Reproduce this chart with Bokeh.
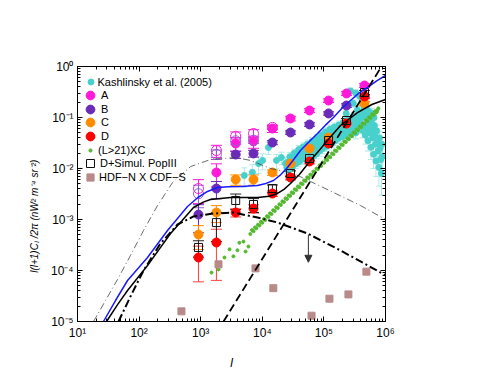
import math
from bokeh.plotting import figure
from bokeh.models import (ColumnDataSource, Whisker, TeeHead, Legend, LegendItem,
                          Arrow, NormalHead, LogAxis, LogTicker, CustomJSTickFormatter)
from bokeh.embed import file_html
from bokeh.resources import INLINE

FONT = "Liberation Sans"
nan = float("nan")

# ---------------- data ----------------
ell = [920, 1800, 3700, 7200, 14600, 28700, 58400, 119000, 233000, 456000]

A_val = [nan, 0.00835, 0.0309, 0.0339, 0.0608, 0.0956, 0.137, 0.215, 0.296, 0.424]
A_err = [nan, 0.0040, 0.0090, 0.0090, 0.0100, 0.0100, 0.012, 0.018, 0.025, 0.035]
B_val = [1.25e-3, 4.05e-3, 0.0188, 0.0197, 0.0323, 0.0508, 0.073, 0.12, 0.172, 0.26]
B_err = [7e-4, 1.5e-3, 3e-3, 3e-3, 3e-3, 4e-3, 6e-3, 9e-3, 0.014, 0.02]
C_val = [5.08e-4, 1.37e-3, 6.08e-3, 6.08e-3, 8.35e-3, 0.0125, 0.0247, 0.0405, 0.0763, 0.188]
C_err = [2.5e-4, 5e-4, 1.4e-3, 1.4e-3, 1e-3, 1.2e-3, 2e-3, 3.5e-3, 7e-3, 0.018]
D_val = [1.8e-4, 3.54e-4, 1.37e-3, 1.64e-3, 3.23e-3, 6.67e-3, 0.0137, 0.0309, 0.0763, 0.258]
D_err = [1.2e-4, 2.9e-4, 2.5e-4, 3e-4, 4e-4, 7e-4, 1.4e-3, 3e-3, 8e-3, 0.025]
P3_val = [2.83e-4, 8.7e-4, 2.36e-3, 1.97e-3, 4.05e-3, 7.98e-3, 0.0157, 0.0354, 0.0873, 0.309]
P3_err = [1e-4, 5e-4, 8e-4, 6e-4, 7e-4, 1e-3, 1.5e-3, 3e-3, 8e-3, 0.03]
A3_val = [4.05e-3, 0.0225, 0.043, 0.0486, 0.064]
A3_err = [2e-3, 6e-3, 9e-3, 9e-3, 6e-3]
B3_val = [3.2e-3, 0.019, 0.035, 0.036]
B3_err = [1.5e-3, 4e-3, 5e-3, 5e-3]

kash_l = [5100, 6900, 8700, 10100, 12600, 17000, 20400, 23800,
          25000, 26000, 27500, 29000, 30500, 32000, 34000, 36000, 38000, 40000,
          42000, 44500, 47000, 50000, 53000, 56000, 59000, 62000, 66000, 70000,
          74000, 78000, 83000, 88000, 93000, 99000, 105000, 111000, 118000, 125000,
          133000, 141000, 150000, 159000, 169000, 179000, 190000, 201000, 213000, 226000,
          240000, 255000, 270000, 286000, 303000, 320000, 340000, 360000, 380000, 400000,
          420000, 445000, 470000, 495000, 520000, 550000, 580000, 610000, 640000, 670000,
          700000, 740000, 780000, 820000, 860000, 880000,
          310000, 330000, 370000, 390000, 430000, 460000, 480000, 510000, 530000, 560000,
          590000, 620000, 660000, 690000, 720000, 760000, 800000, 840000, 870000,
          230000, 270000, 300000, 330000, 350000, 380000, 420000, 450000, 500000, 540000,
          600000, 650000,
          27000, 31000, 35000, 39000, 43000, 48000, 54000, 60000, 68000, 76000,
          85000, 95000, 108000, 120000, 136000, 152000, 172000, 195000, 220000, 248000,
          280000,
          28000, 33000, 39000, 46000, 54000, 64000, 76000, 90000, 106000, 125000,
          148000, 175000, 205000, 240000, 280000]
kash_c = [0.0073, 0.0084, 0.0125, 0.0144, 0.0258, 0.0144, 0.0164, 0.0126,
          0.0105, 0.0135, 0.0118, 0.0152, 0.0128, 0.0168, 0.0140, 0.0180, 0.0152, 0.0195,
          0.0162, 0.0215, 0.0175, 0.0230, 0.0188, 0.0250, 0.0200, 0.0270, 0.0215, 0.0292,
          0.0235, 0.0320, 0.0260, 0.0350, 0.0285, 0.0395, 0.0320, 0.0435, 0.0350, 0.0480,
          0.0385, 0.0520, 0.0420, 0.0560, 0.0450, 0.0600, 0.0480, 0.0640, 0.0510, 0.0690,
          0.0540, 0.0740, 0.0580, 0.0790, 0.0620, 0.0850, 0.0660, 0.0900, 0.0640, 0.0980,
          0.0560, 0.1100, 0.0450, 0.0950, 0.0350, 0.0780, 0.0260, 0.0600, 0.0190, 0.0450,
          0.0140, 0.0330, 0.0105, 0.0250, 0.0080, 0.0170,
          0.105, 0.050, 0.120, 0.075, 0.130, 0.070, 0.120, 0.060, 0.110, 0.050,
          0.090, 0.040, 0.070, 0.030, 0.055, 0.022, 0.040, 0.015, 0.030,
          0.12, 0.33, 0.19, 0.30, 0.14, 0.26, 0.20, 0.16, 0.14, 0.13,
          0.12, 0.10,
          0.0095, 0.0110, 0.0125, 0.0135, 0.0150, 0.0160, 0.0165, 0.0170, 0.0175, 0.0195,
          0.0220, 0.0245, 0.0270, 0.0290, 0.0320, 0.0350, 0.0390, 0.0420, 0.0450, 0.0490,
          0.0520,
          0.0170, 0.0200, 0.0235, 0.0265, 0.0300, 0.0340, 0.0390, 0.0450, 0.0520, 0.0590,
          0.0650, 0.0710, 0.0790, 0.0870, 0.0940]
kash_err = [0.0030, 0.0035, 0.0045, 0.0050, 0.0070, 0.0045, 0.0045, 0.0040,
            0.0025, 0.003, 0.0025, 0.003, 0.0025, 0.0035, 0.003, 0.0035, 0.003, 0.004,
            0.0035, 0.0045, 0.0035, 0.0045, 0.004, 0.005, 0.004, 0.0055, 0.0045, 0.006,
            0.005, 0.0065, 0.0055, 0.007, 0.006, 0.008, 0.0065, 0.009, 0.007, 0.0095,
            0.008, 0.0105, 0.0085, 0.011, 0.009, 0.012, 0.0095, 0.013, 0.010, 0.014,
            0.011, 0.015, 0.012, 0.016, 0.013, 0.018, 0.015, 0.020, 0.016, 0.025,
            0.016, 0.030, 0.015, 0.030, 0.013, 0.028, 0.011, 0.024, 0.009, 0.020,
            0.007, 0.016, 0.006, 0.013, 0.005, 0.010,
            0.02, 0.012, 0.025, 0.018, 0.03, 0.018, 0.03, 0.016, 0.03, 0.014,
            0.025, 0.012, 0.02, 0.01, 0.016, 0.008, 0.013, 0.006, 0.01,
            0.02, 0.05, 0.03, 0.05, 0.025, 0.04, 0.035, 0.03, 0.03, 0.03,
            0.03, 0.025,
            0.002, 0.0022, 0.0025, 0.0027, 0.003, 0.0032, 0.0033, 0.0034, 0.0035, 0.004,
            0.0045, 0.005, 0.0055, 0.006, 0.0065, 0.007, 0.008, 0.0085, 0.009, 0.010,
            0.011,
            0.0035, 0.004, 0.0047, 0.0053, 0.006, 0.0068, 0.008, 0.009, 0.0105, 0.012,
            0.013, 0.014, 0.016, 0.018, 0.019]

xc_l = [1500, 1950, 2430, 2940, 3400, 3950, 4250, 4950, 5350, 5950,
        6400, 6800, 7200, 7600, 8000, 8500, 9000, 9500, 10000, 10600,
        11200, 11900, 12600, 13300, 14100, 15000, 15900, 16800, 17800, 18900,
        20000, 21200, 22400, 23800, 25200, 26700, 28300, 30000, 31800, 33700,
        35700, 37800, 40000, 42400, 45000, 47700, 50500, 53500, 56700, 60000,
        63600, 67400, 71400, 75700, 80200, 85000, 90000, 95400, 101000, 107000,
        113500, 120000, 127000, 135000, 143000, 151000, 160000, 170000, 180000, 191000,
        202000, 214000, 227000, 240000, 255000, 270000, 286000, 303000, 321000, 340000,
        360000, 382000, 405000, 429000, 455000, 482000, 510000, 541000, 573000, 607000,
        643000, 682000, 723000, 766000, 740000, 700000]
xc_c = [9.1e-5, 1.05e-4, 1.8e-4, 2.6e-4, 1.9e-4, 2.5e-4, 3.5e-4, 3.7e-4, 2.35e-4, 2.95e-4,
        5.2e-4, 6.2e-4, 5.9e-4, 7.0e-4, 6.7e-4, 7.9e-4, 7.6e-4, 9.0e-4, 8.6e-4, 1.02e-3,
        9.8e-4, 1.16e-3, 1.12e-3, 1.32e-3, 1.28e-3, 1.52e-3, 1.47e-3, 1.74e-3, 1.68e-3, 1.99e-3,
        1.93e-3, 2.27e-3, 2.2e-3, 2.6e-3, 2.53e-3, 2.97e-3, 2.9e-3, 3.4e-3, 3.3e-3, 3.9e-3,
        3.8e-3, 4.45e-3, 4.3e-3, 5.1e-3, 4.95e-3, 5.85e-3, 5.7e-3, 6.7e-3, 6.5e-3, 7.6e-3,
        7.45e-3, 8.75e-3, 8.5e-3, 1.0e-2, 9.75e-3, 1.15e-2, 1.12e-2, 1.32e-2, 1.29e-2, 1.51e-2,
        1.47e-2, 1.72e-2, 1.67e-2, 1.97e-2, 1.91e-2, 2.25e-2, 2.2e-2, 2.59e-2, 2.52e-2, 2.97e-2,
        2.89e-2, 3.4e-2, 3.3e-2, 3.88e-2, 3.77e-2, 4.45e-2, 4.3e-2, 5.1e-2, 4.95e-2, 5.85e-2,
        5.7e-2, 6.7e-2, 6.5e-2, 7.7e-2, 7.5e-2, 8.85e-2, 8.55e-2, 0.101, 0.098, 0.116,
        0.112, 0.133, 0.128, 0.152, 0.14, 0.125]

hdf_l = [487, 1945, 7760, 15100, 63000, 123000, 250000, 490000]
hdf_c = [1.58e-5, 1.32e-4, 1.1e-4, 4.5e-5, 1.3e-5, 2.8e-5, 3.4e-5, 9.5e-5]

blue_l = [26.4, 41.4, 64.9, 137, 289, 611, 900, 1290, 1875, 2800, 4430, 8360, 11000,
          15200, 20000, 25600, 33000, 41700, 57000, 78700, 105000, 143000, 200000,
          270000, 370000, 511000, 720000, 1e6]
blue_c = [1e-5, 2.58e-5, 6.37e-5, 1.8e-4, 6.09e-4, 1.8e-3, 2.7e-3, 3.55e-3, 4.24e-3,
          4.4e-3, 4.44e-3, 4.65e-3, 5.0e-3, 5.82e-3, 7.6e-3, 0.0105, 0.0155, 0.0225,
          0.033, 0.0486, 0.07, 0.1, 0.155, 0.215, 0.3, 0.388, 0.52, 0.666]

black_l = [29.6, 45, 64.9, 100, 137, 210, 324, 500, 764, 1100, 1440, 3050, 8360,
           13000, 17700, 22500, 28700, 40000, 60600, 85000, 114000, 186000, 351000,
           600000, 1e6]
black_c = [1e-5, 2.17e-5, 4.06e-5, 7.8e-5, 1.25e-4, 2.56e-4, 5.31e-4, 9.6e-4, 1.72e-3,
           2.19e-3, 2.47e-3, 2.7e-3, 2.7e-3, 2.85e-3, 3.24e-3, 3.9e-3, 5.08e-3, 7.6e-3,
           0.0144, 0.023, 0.0354, 0.0697, 0.125, 0.18, 0.225]

thin_l = [18.2, 28.5, 44.6, 72.4, 118, 199, 349, 683, 1440, 3670, 6430, 13600, 32100,
          60600, 143000, 393000, 1e6]
thin_c = [1e-5, 2.58e-5, 6.67e-5, 1.97e-4, 6.08e-4, 1.88e-3, 5.31e-3, 0.0109, 0.015,
          0.0164, 0.0144, 0.01, 7.98e-3, 5.56e-3, 3.39e-3, 1.88e-3, 1e-3]

thick_l = [46.3, 72.4, 118, 222, 420, 764, 1615, 3400, 8360, 17700, 54200, 186000,
           638000, 1e6]
thick_c = [1e-5, 3.09e-5, 1e-4, 3.38e-4, 7.98e-4, 1.15e-3, 1.31e-3, 1.37e-3, 1.09e-3,
           8.73e-4, 5.31e-4, 2.47e-4, 1.09e-4, 8e-5]

shot_l = [2345, 861000]
shot_c = [1e-5, 1.0]

arrow_l = 56000
arrow_top = 5.0e-4
arrow_bottom = 1.45e-4

x_title = "l"
y_title = "l(l+1)C\u2097 /2\u03c0 (nW\u00b2 m\u207b\u2074 sr\u207b\u00b2)"

# ---------------- figure ----------------
p = figure(x_axis_type="log", y_axis_type="log", x_range=(10, 1e6), y_range=(1e-5, 1),
           frame_width=308, frame_height=255, min_border_left=77, min_border_right=109,
           min_border_top=66, min_border_bottom=59, output_backend="svg",
           toolbar_location=None, background_fill_color="white", border_fill_color="white")
p.grid.visible = False
p.outline_line_color = "black"
p.outline_line_width = 1

fmt_code = r"""
const sup = {"-": "\u207b", "0": "\u2070", "1": "\u00b9", "2": "\u00b2", "3": "\u00b3",
             "4": "\u2074", "5": "\u2075", "6": "\u2076", "7": "\u2077", "8": "\u2078", "9": "\u2079"};
const e = Math.round(Math.log(tick) / Math.LN10);
return "10" + String(e).split("").map(c => sup[c]).join("");
"""
fmt = CustomJSTickFormatter(code=fmt_code)
blank = CustomJSTickFormatter(code="return '';")


def style_axis(ax, labels=True):
    ax.ticker = LogTicker(desired_num_ticks=6, num_minor_ticks=10)
    ax.formatter = fmt if labels else blank
    ax.major_tick_in = 5
    ax.major_tick_out = 0
    ax.minor_tick_in = 3
    ax.minor_tick_out = 0
    ax.axis_line_color = "black"
    ax.major_tick_line_color = "black"
    ax.minor_tick_line_color = "black"
    ax.major_label_text_font = FONT
    ax.major_label_text_font_size = "12px"
    ax.major_label_text_color = "black"
    ax.major_label_standoff = 4
    ax.axis_label_text_font = FONT
    ax.axis_label_text_font_style = "italic"
    ax.axis_label_text_color = "black"


style_axis(p.xaxis[0])
style_axis(p.yaxis[0])
p.xaxis[0].axis_label = x_title
p.xaxis[0].axis_label_text_font_size = "12px"
p.xaxis[0].axis_label_standoff = 13
# trailing no-break spaces shift the rotated title down, as in the reference
p.yaxis[0].axis_label = y_title + "\u00a0" * 16
p.yaxis[0].axis_label_text_font_size = "10px"
p.yaxis[0].axis_label_standoff = 8

top_ax = LogAxis()
right_ax = LogAxis()
style_axis(top_ax, labels=False)
style_axis(right_ax, labels=False)
p.add_layout(top_ax, "above")
p.add_layout(right_ax, "right")


def add_err(x, y, e, color, head=9, width=1.0, alpha=1.0):
    xs, lo, hi = [], [], []
    for a, b, c in zip(x, y, e):
        if not (math.isnan(b) or math.isnan(c)):
            xs.append(a)
            lo.append(b - c)
            hi.append(b + c)
    src = ColumnDataSource(dict(x=xs, lo=lo, hi=hi))
    w = Whisker(source=src, base="x", lower="lo", upper="hi", line_color=color,
                line_width=width, line_alpha=alpha,
                lower_head=TeeHead(size=head, line_color=color, line_width=width, line_alpha=alpha),
                upper_head=TeeHead(size=head, line_color=color, line_width=width, line_alpha=alpha))
    p.add_layout(w)


def clean(x, y):
    xs, ys = [], []
    for a, b in zip(x, y):
        if not math.isnan(b):
            xs.append(a)
            ys.append(b)
    return xs, ys


CYAN = "#48d1cc"
MAG = "#ff1ad9"
PUR = "#6a2cb8"
ORA = "#ff8c00"
RED = "#ff0000"
GRN = "#55b92f"
BRN = "#b88a8a"

# error bars
add_err(kash_l, kash_c, kash_err, "#9fe3e3", head=6, width=1, alpha=0.8)
add_err(ell[:5], A3_val, A3_err, MAG, head=11)
add_err(ell[:4], B3_val, B3_err, "#9060d0", head=11)
add_err(ell, A_val, A_err, MAG, head=11)
add_err(ell, B_val, B_err, PUR, head=11)
add_err(ell, C_val, C_err, ORA, head=11)
add_err(ell, D_val, D_err, "#ff4040", head=11)
add_err(ell, P3_val, P3_err, "#222222", head=11)

# points
r_kash = p.scatter(kash_l, kash_c, size=6, marker="circle", fill_color=CYAN, line_color=CYAN)
r_xc = p.scatter(xc_l, xc_c, size=3, marker="circle", fill_color=GRN, line_color=GRN)
r_hdf = p.scatter(hdf_l, hdf_c, size=7, marker="square", fill_color=BRN, line_color=BRN)

xa, ya = clean(ell, A_val)
r_a = p.scatter(xa, ya, size=9, marker="circle", fill_color=MAG, line_color=MAG)
r_b = p.scatter(ell, B_val, size=9, marker="circle", fill_color=PUR, line_color=PUR)
r_c = p.scatter(ell, C_val, size=9, marker="circle", fill_color=ORA, line_color=ORA)
r_d = p.scatter(ell, D_val, size=9, marker="circle", fill_color=RED, line_color=RED)
p.scatter(ell[:5], A3_val, size=10, marker="circle", fill_color=None, line_color=MAG, line_width=1)
p.scatter(ell[:4], B3_val, size=10, marker="circle", fill_color=None, line_color="#9060d0", line_width=1)
r_p3 = p.scatter(ell, P3_val, size=8, marker="square", fill_color=None, line_color="#111111", line_width=1)

# model curves
p.line(thin_l, thin_c, line_color="#444444", line_width=0.8, line_dash="7 3 1 3")
p.line(blue_l, blue_c, line_color="#1a1aff", line_width=1.5)
p.line(black_l, black_c, line_color="black", line_width=1.5)
p.line(thick_l, thick_c, line_color="black", line_width=2, line_dash="8 3 2 3")
p.line(shot_l, shot_c, line_color="black", line_width=1.8, line_dash="8 4")

p.add_layout(Arrow(end=NormalHead(size=7, fill_color="#333333", line_color="#333333", line_width=1),
                   x_start=arrow_l, y_start=arrow_top, x_end=arrow_l, y_end=arrow_bottom,
                   line_color="#333333", line_width=1))

# legend: one block per entry so each marker keeps its own size
legend_rows = [("Kashlinsky et al. (2005)", r_kash, 6),
               ("A", r_a, 9), ("B", r_b, 9), ("C", r_c, 9), ("D", r_d, 9),
               ("(L>21)XC", r_xc, 3), ("D+Simul. PopIII", r_p3, 8),
               ("HDF\u2212N X CDF\u2212S", r_hdf, 7)]
for i, (lab, rend, sz) in enumerate(legend_rows):
    gw = int(round(sz / 0.4))
    gh = max(gw, 14)
    yc = 15.5 + 13.6 * i
    leg = Legend(items=[LegendItem(label=lab, renderers=[rend])],
                 location=(13 - gw / 2, 255 - yc - gh / 2),
                 glyph_width=gw, glyph_height=gh, label_height=gh,
                 label_standoff=int(round(7.7 - gw / 2)),
                 padding=0, margin=0, spacing=0,
                 border_line_alpha=0, background_fill_alpha=0,
                 label_text_font=FONT, label_text_font_size="11px",
                 label_text_color="black")
    p.add_layout(leg)

open("out.html", "w").write(file_html(p, INLINE))
